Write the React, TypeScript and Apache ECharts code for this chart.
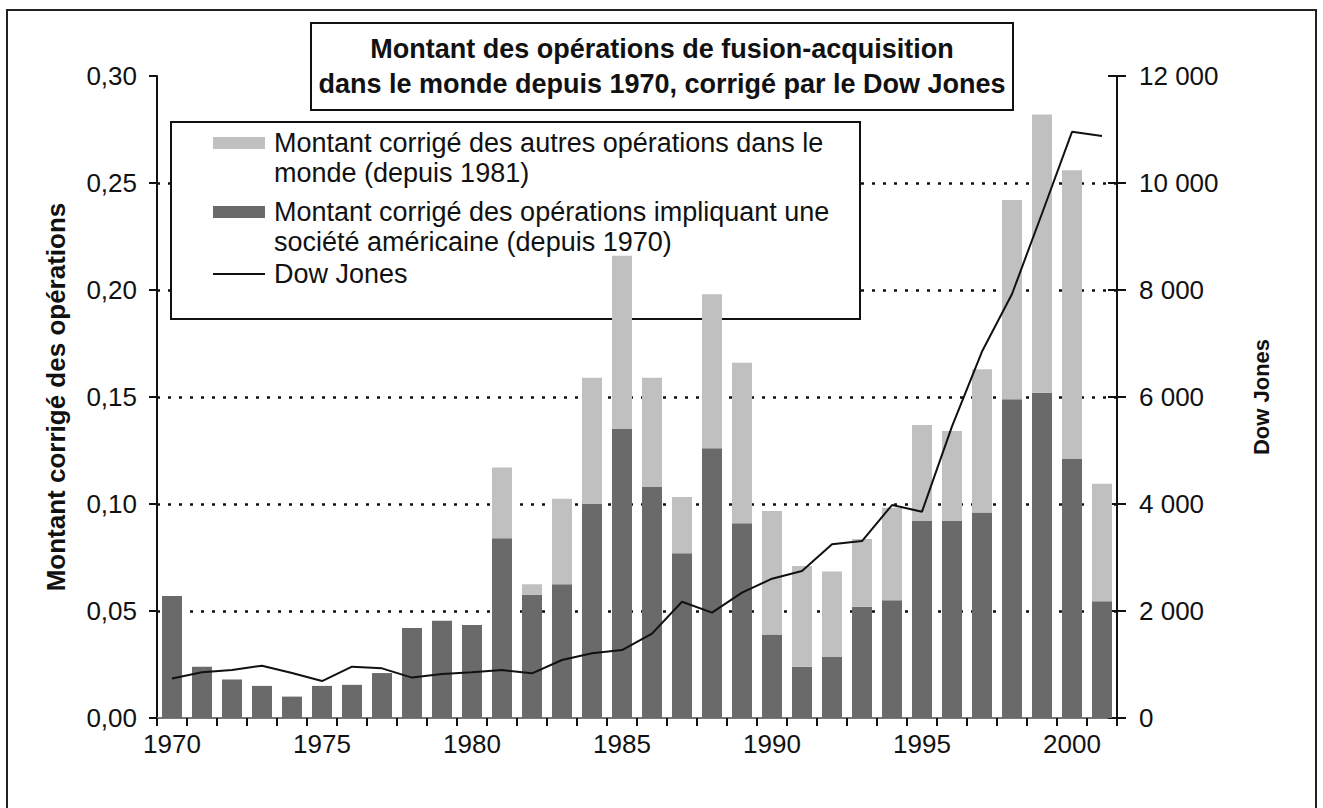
import React, { useEffect, useRef } from "react";
import * as echarts from "echarts";

const years: string[] = [
  "1970","1971","1972","1973","1974","1975","1976","1977","1978","1979",
  "1980","1981","1982","1983","1984","1985","1986","1987","1988","1989",
  "1990","1991","1992","1993","1994","1995","1996","1997","1998","1999",
  "2000","2001",
];

// Montant corrigé des opérations impliquant une société américaine (depuis 1970)
const usDeals: number[] = [
  0.057, 0.024, 0.018, 0.015, 0.010, 0.015, 0.0155, 0.021, 0.042, 0.0455,
  0.0435, 0.084, 0.0575, 0.0625, 0.100, 0.135, 0.108, 0.077, 0.126, 0.091,
  0.039, 0.024, 0.0285, 0.052, 0.055, 0.092, 0.092, 0.096, 0.149, 0.152,
  0.121, 0.0545,
];

// Montant corrigé des autres opérations dans le monde (depuis 1981) — stacked part
const otherDeals: (number | null)[] = [
  null, null, null, null, null, null, null, null, null, null,
  null, 0.033, 0.005, 0.040, 0.059, 0.081, 0.051, 0.0263, 0.072, 0.075,
  0.0577, 0.047, 0.040, 0.0316, 0.0433, 0.0449, 0.0421, 0.067, 0.093, 0.130,
  0.135, 0.055,
];

// Dow Jones
const dowJones: number[] = [
  740, 854, 897, 978, 840, 690, 960, 928, 755, 822,
  854, 897, 835, 1084, 1209, 1270, 1576, 2174, 1969, 2343,
  2604, 2748, 3246, 3308, 3981, 3857, 5450, 6850, 7925, 9430,
  10956, 10880,
];

const titleLines: string[] = [
  "Montant des opérations de fusion-acquisition",
  "dans le monde depuis 1970, corrigé par le Dow Jones",
];
const legendOther = ["Montant corrigé des autres opérations dans le", "monde (depuis 1981)"];
const legendUS = ["Montant corrigé des opérations impliquant une", "société américaine (depuis 1970)"];
const legendDJ = "Dow Jones";

const FONT = "'Liberation Sans', Arial, Helvetica, sans-serif";
const LIGHT = "#c0c0c0";
const DARK = "#6a6a6a";

function fmtThousands(v: number): string {
  if (v >= 1000) {
    const th = Math.floor(v / 1000);
    const rest = String(v % 1000).padStart(3, "0");
    return th + " " + rest;
  }
  return String(v);
}

export default function App() {
  const ref = useRef<HTMLDivElement>(null);
  useEffect(() => {
    if (!ref.current) return;
    const chart = echarts.init(ref.current, null, { renderer: "svg" });
    const axisText = { fontFamily: FONT, fontSize: 26, color: "#111" };
    const option: any = {
      animation: false,
      backgroundColor: "#fff",
      grid: { left: 157, right: 206, top: 76, bottom: 90, containLabel: false },
      xAxis: [
        {
          type: "category",
          data: years,
          boundaryGap: true,
          axisLine: { lineStyle: { color: "#111", width: 2 } },
          axisTick: { show: true, interval: 0, length: 8, lineStyle: { color: "#111", width: 2 } },
          axisLabel: { interval: 4, margin: 13, ...axisText },
          splitLine: { show: false },
        },
        {
          type: "value",
          position: "top",
          min: 0,
          max: 1,
          axisLine: { show: true, lineStyle: { color: "#999", width: 1.5 } },
          axisTick: { show: false },
          axisLabel: { show: false },
          splitLine: { show: false },
        },
      ],
      yAxis: [
        {
          type: "value",
          min: 0,
          max: 0.3,
          interval: 0.05,
          position: "left",
          name: "Montant corrigé des opérations",
          nameLocation: "middle",
          nameGap: 88,
          nameTextStyle: { fontFamily: FONT, fontSize: 26, fontWeight: "bold", color: "#111" },
          axisLine: { show: true, lineStyle: { color: "#111", width: 2 } },
          axisTick: { show: true, length: 8, lineStyle: { color: "#111", width: 2 } },
          axisLabel: { margin: 20, formatter: (v: number) => v.toFixed(2).replace(".", ","), ...axisText },
          splitLine: {
            show: true,
            showMinLine: false,
            showMaxLine: false,
            lineStyle: { color: "#111", width: 2.5, type: [3, 8] },
          },
        },
        {
          type: "value",
          min: 0,
          max: 12000,
          interval: 2000,
          position: "right",
          name: "Dow Jones",
          nameLocation: "middle",
          nameGap: 133,
          nameRotate: 90,
          nameTextStyle: { fontFamily: FONT, fontSize: 22, fontWeight: "bold", color: "#111" },
          axisLine: { show: true, lineStyle: { color: "#111", width: 2 } },
          axisTick: { show: true, length: 9, lineStyle: { color: "#111", width: 2 } },
          axisLabel: { margin: 22, formatter: (v: number) => fmtThousands(v), ...axisText },
          splitLine: { show: false },
        },
        {
          type: "value",
          min: 0,
          max: 12000,
          interval: 2000,
          position: "right",
          axisLine: { show: false },
          axisTick: { show: true, inside: true, length: 9, lineStyle: { color: "#111", width: 2 } },
          axisLabel: { show: false },
          splitLine: { show: false },
        },
      ],
      series: [
        {
          name: legendUS.join(" "),
          type: "bar",
          stack: "deals",
          data: usDeals,
          barWidth: 20,
          itemStyle: { color: DARK },
          z: 3,
        },
        {
          name: legendOther.join(" "),
          type: "bar",
          stack: "deals",
          data: otherDeals,
          barWidth: 20,
          itemStyle: { color: LIGHT },
          z: 3,
        },
        {
          name: legendDJ,
          type: "line",
          yAxisIndex: 1,
          data: dowJones,
          symbol: "none",
          lineStyle: { color: "#111", width: 2 },
          z: 4,
        },
      ],
      graphic: [
        {
          type: "rect",
          z: 100,
          silent: true,
          shape: { x: 7, y: 10, width: 1309, height: 900 },
          style: { fill: "none", stroke: "#222", lineWidth: 2 },
        },
        {
          type: "rect",
          z: 1,
          shape: { x: 311, y: 23, width: 702, height: 87 },
          style: { fill: "#fff", stroke: "#111", lineWidth: 2 },
        },
        {
          type: "text",
          z: 10,
          x: 662,
          y: 66,
          style: {
            text: titleLines.join("\n"),
            fontFamily: FONT,
            fontSize: 27,
            fontWeight: "bold",
            fill: "#111",
            textAlign: "center",
            textVerticalAlign: "middle",
            lineHeight: 35,
          },
        },
        {
          type: "rect",
          z: 1,
          shape: { x: 171, y: 122, width: 689, height: 197 },
          style: { fill: "#fff", stroke: "#111", lineWidth: 2 },
        },
        {
          type: "rect",
          z: 10,
          shape: { x: 213, y: 137, width: 52, height: 12 },
          style: { fill: LIGHT },
        },
        {
          type: "text",
          z: 10,
          x: 274,
          y: 158,
          style: {
            text: legendOther.join("\n"),
            fontFamily: FONT,
            fontSize: 27,
            fill: "#111",
            textAlign: "left",
            textVerticalAlign: "middle",
            lineHeight: 30,
          },
        },
        {
          type: "rect",
          z: 10,
          shape: { x: 213, y: 206, width: 52, height: 12 },
          style: { fill: DARK },
        },
        {
          type: "text",
          z: 10,
          x: 274,
          y: 227,
          style: {
            text: legendUS.join("\n"),
            fontFamily: FONT,
            fontSize: 27,
            fill: "#111",
            textAlign: "left",
            textVerticalAlign: "middle",
            lineHeight: 30,
          },
        },
        {
          type: "line",
          z: 10,
          shape: { x1: 213, y1: 274, x2: 265, y2: 274 },
          style: { stroke: "#111", lineWidth: 2 },
        },
        {
          type: "text",
          z: 10,
          x: 274,
          y: 274,
          style: {
            text: legendDJ,
            fontFamily: FONT,
            fontSize: 27,
            fill: "#111",
            textAlign: "left",
            textVerticalAlign: "middle",
          },
        },
      ],
    };
    chart.setOption(option);
    return () => chart.dispose();
  }, []);
  return (
    <div
      ref={ref}
      style={{ position: "absolute", left: 0, top: 0, width: 1323, height: 808 }}
    />
  );
}
